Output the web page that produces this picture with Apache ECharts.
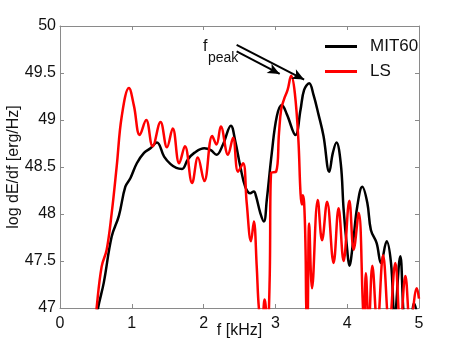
<!DOCTYPE html>
<html>
<head>
<meta charset="utf-8">
<script src="https://cdn.jsdelivr.net/npm/echarts@6/dist/echarts.min.js"></script>
<style>
  html, body { margin: 0; padding: 0; background: #fff; }
  #main { width: 463px; height: 348px; }
</style>
</head>
<body>
<div id="main"></div>
<script>
/** -------- 数据 (f [kHz], log dE/df) ------ */
var lsFreq = [0.49, 0.51, 0.58, 0.65, 0.72, 0.79, 0.86, 0.96, 1.03, 1.11, 1.20, 1.29, 1.40, 1.49, 1.57, 1.66, 1.74, 1.84, 1.92, 2.01,
    2.12, 2.18, 2.24, 2.34, 2.41, 2.48, 2.55, 2.60, 2.66, 2.70, 2.74, 2.77, 2.81, 2.85, 2.89, 2.92, 2.94, 3.01, 3.05, 3.08,
    3.12, 3.17, 3.22, 3.27, 3.32, 3.35, 3.37, 3.38, 3.40, 3.42, 3.43, 3.445, 3.47, 3.51, 3.59, 3.65, 3.72, 3.81, 3.88, 3.95,
    4.03, 4.09, 4.16, 4.22, 4.235, 4.26, 4.30, 4.35, 4.42, 4.50, 4.585, 4.67, 4.74, 4.81, 4.88, 4.97, 5.0];
var lsLevel = [46.8, 47.0, 47.44, 47.62, 48.01, 48.51, 49.04, 49.34, 49.15, 48.84, 49.0, 48.72, 48.98, 48.71, 48.91, 48.54, 48.72, 48.33, 48.60, 48.35,
    48.83, 48.74, 48.93, 48.63, 48.81, 48.45, 48.54, 48.12, 47.71, 47.92, 47.44, 47.0, 46.8, 47.09, 46.8, 47.3, 48.44, 48.45, 48.86, 49.11,
    49.22, 49.32, 49.47, 49.29, 48.79, 48.22, 48.10, 48.20, 48.12, 47.62, 47.0, 46.8, 47.90, 47.21, 48.15, 47.72, 48.13, 47.48, 48.06, 47.50,
    48.14, 47.62, 48.01, 47.0, 46.8, 47.37, 46.8, 47.45, 46.8, 47.56, 46.8, 47.48, 46.8, 47.34, 46.8, 47.21, 47.1];

var mitFreq = [0.52, 0.53, 0.61, 0.72, 0.82, 0.91, 0.98, 1.07, 1.17, 1.26, 1.35, 1.45, 1.54, 1.62, 1.70, 1.78, 1.87, 2.01, 2.10, 2.18,
    2.27, 2.38, 2.44, 2.51, 2.58, 2.65, 2.70, 2.73, 2.79, 2.84, 2.88, 2.95, 3.02, 3.09, 3.16, 3.28, 3.35, 3.40, 3.47, 3.53,
    3.60, 3.67, 3.75, 3.80, 3.85, 3.91, 3.95, 4.00, 4.03, 4.08, 4.14, 4.21, 4.28, 4.33, 4.41, 4.47, 4.55, 4.61, 4.66, 4.74,
    4.81, 4.88, 4.93, 4.98];
var mitLevel = [46.9, 47.0, 47.27, 47.76, 47.98, 48.29, 48.38, 48.54, 48.65, 48.70, 48.76, 48.61, 48.53, 48.49, 48.48, 48.58, 48.65, 48.70, 48.68, 48.63,
    48.74, 48.94, 48.78, 48.51, 48.29, 48.22, 48.24, 48.19, 48.01, 47.92, 48.15, 48.65, 49.04, 49.16, 49.06, 48.84, 49.11, 49.32, 49.39, 49.27,
    49.06, 48.83, 48.45, 48.65, 48.76, 48.54, 48.05, 47.62, 47.45, 47.69, 48.08, 48.29, 48.12, 47.83, 47.69, 47.48, 47.71, 47.48, 46.9, 47.55,
    46.9, 46.9, 47.05, 46.9];

// f_peak 箭头 (起点, 终点)
var arrowMit = [[2.46, 49.80], [3.40, 49.43]];
var arrowLs = [[2.46, 49.73], [3.06, 49.49]];

var xTicks = [0, 5, 1];
var yTicks = [47, 50, 0.5];

var fontName = "'Liberation Sans', Arial, sans-serif";
var axisGray = '#8a8a8a';

function pairs(xs, ys) {
    var out = [];
    for (var i = 0; i < xs.length; i++) {
        out.push([xs[i], ys[i]]);
    }
    return out;
}

function frameAxis(pos, showLabel) {
    return {
        type: 'value',
        position: pos,
        axisLine: { show: true, onZero: false, lineStyle: { color: axisGray, width: 1 } },
        axisTick: { show: true, inside: true, length: 4, lineStyle: { color: axisGray } },
        axisLabel: { show: showLabel, color: '#111', fontSize: 16, fontFamily: fontName },
        splitLine: { show: false }
    };
}

var chart = echarts.init(document.getElementById('main'));

var xBottom = frameAxis('bottom', true);
xBottom.min = xTicks[0]; xBottom.max = xTicks[1]; xBottom.interval = xTicks[2];
xBottom.name = 'f [kHz]';
xBottom.nameLocation = 'middle';
xBottom.nameGap = 15;
xBottom.nameMoveOverlap = false;
xBottom.nameTextStyle = { color: '#111', fontSize: 16, fontFamily: fontName };
xBottom.axisLabel.margin = 8;

var xTop = frameAxis('top', false);
xTop.min = xTicks[0]; xTop.max = xTicks[1]; xTop.interval = xTicks[2];

var yLeft = frameAxis('left', true);
yLeft.min = yTicks[0]; yLeft.max = yTicks[1]; yLeft.interval = yTicks[2];
yLeft.name = 'log dE/df [erg/Hz]';
yLeft.nameLocation = 'middle';
yLeft.nameGap = 38;
yLeft.nameMoveOverlap = false;
yLeft.nameTextStyle = { color: '#111', fontSize: 16, fontFamily: fontName };
yLeft.axisLabel.margin = 4;

var yRight = frameAxis('right', false);
yRight.min = yTicks[0]; yRight.max = yTicks[1]; yRight.interval = yTicks[2];

var option = {
    animation: false,
    backgroundColor: '#fff',
    textStyle: { fontFamily: fontName },
    grid: { left: 60, right: 44, top: 26, bottom: 40, containLabel: false, outerBoundsMode: 'none' },
    legend: {
        orient: 'vertical',
        left: 325,
        top: 38,
        icon: 'rect',
        itemWidth: 32,
        itemHeight: 3,
        itemGap: 8,
        padding: 0,
        textStyle: { fontSize: 17, color: '#111', fontFamily: fontName, padding: [0, 0, 0, 8] },
        data: ['MIT60', 'LS']
    },
    xAxis: [xBottom, xTop],
    yAxis: [yLeft, yRight],
    graphic: [
        { type: 'text', left: 203, top: 39, style: { text: 'f', fontSize: 16, fontFamily: fontName, fill: '#111' } },
        { type: 'text', left: 208, top: 51, style: { text: 'peak', fontSize: 14, fontFamily: fontName, fill: '#111' } }
    ],
    series: [
        {
            name: 'MIT60',
            type: 'line',
            xAxisIndex: 0,
            yAxisIndex: 0,
            data: pairs(mitFreq, mitLevel),
            symbol: 'none',
            smooth: 0.4,
            clip: true,
            lineStyle: { color: '#000', width: 2.5 },
            itemStyle: { color: '#000' },
            z: 2,
            markLine: {
                silent: true,
                symbol: ['none', 'arrow'],
                symbolSize: [8, 12],
                label: { show: false },
                lineStyle: { color: '#000', width: 2, type: 'solid' },
                data: [
                    [{ coord: arrowMit[0] }, { coord: arrowMit[1] }],
                    [{ coord: arrowLs[0] }, { coord: arrowLs[1] }]
                ]
            }
        },
        {
            name: 'LS',
            type: 'line',
            xAxisIndex: 0,
            yAxisIndex: 0,
            data: pairs(lsFreq, lsLevel),
            symbol: 'none',
            smooth: 0.4,
            clip: true,
            lineStyle: { color: '#ff0000', width: 2.5 },
            itemStyle: { color: '#ff0000' },
            z: 3
        }
    ]
};

chart.setOption(option);
</script>
</body>
</html>
